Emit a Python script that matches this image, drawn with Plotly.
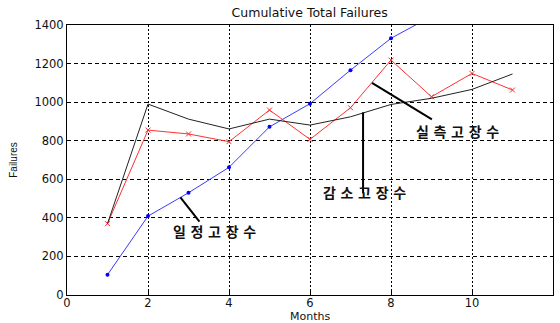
import plotly.graph_objects as go

months = [1, 2, 3, 4, 5, 6, 7, 8, 9, 10, 11]

# constant-rate failures (rises off the top of the axes after month 8)
constant_months = [1, 2, 3, 4, 5, 6, 7, 8, 9]
constant_vals = [105, 409, 530, 662, 872, 992, 1166, 1331, 1445]

# observed failures
observed_vals = [370, 855, 835, 795, 959, 807, 971, 1218, 1028, 1149, 1063]

# decreasing-rate failures
decreasing_vals = [370, 990, 912, 861, 912, 881, 924, 988, 1020, 1066, 1146]

x_ticks = [0, 2, 4, 6, 8, 10, 12]
y_ticks = [0, 200, 400, 600, 800, 1000, 1200, 1400]

fig = go.Figure()

fig.add_trace(go.Scatter(
    x=constant_months, y=constant_vals, mode="lines+markers",
    line=dict(color="#3a3aff", width=1),
    marker=dict(symbol="circle", size=4, color="#0000ff"),
))
fig.add_trace(go.Scatter(
    x=months, y=observed_vals, mode="lines+markers",
    line=dict(color="#ff3030", width=1),
    marker=dict(symbol="x-thin", size=5, line=dict(color="#ff3030", width=1)),
))
fig.add_trace(go.Scatter(
    x=months, y=decreasing_vals, mode="lines",
    line=dict(color="#222222", width=1),
))

# callout labels with leader lines
labels = [
    dict(text="실측고장수", tx=9.63, ty=850, x0=7.53, y0=1100, x1=9.01, y1=911),
    dict(text="감소고장수", tx=7.34, ty=532, x0=7.31, y0=947, x1=7.31, y1=527),
    dict(text="일정고장수", tx=3.64, ty=330, x0=2.80, y0=506, x1=3.27, y1=380),
]
for lb in labels:
    fig.add_shape(type="line", x0=lb["x0"], y0=lb["y0"], x1=lb["x1"], y1=lb["y1"],
                  xref="x", yref="y", line=dict(color="black", width=2))
    fig.add_annotation(x=lb["tx"], y=lb["ty"], xref="x", yref="y",
                       text="<b>" + "\u2004".join(lb["text"]) + "</b>",
                       showarrow=False,
                       font=dict(family="Noto Sans CJK KR", size=14, color="#111111"))

# x-axis title placed below the tick labels
fig.add_annotation(x=0.5, y=-0.078, xref="paper", yref="paper",
                   text="Months", showarrow=False, xanchor="center", yanchor="middle",
                   font=dict(family="DejaVu Sans", size=11, color="#111111"))

axis_common = dict(
    showline=True, mirror=True, linecolor="black", linewidth=1,
    ticks="inside", ticklen=4, tickcolor="black",
    gridcolor="black", gridwidth=1, zeroline=False, automargin=False,
    tickfont=dict(family="DejaVu Sans", size=11.5, color="#111111"),
)

fig.update_layout(
    width=560, height=323,
    margin=dict(l=67, r=7, t=25, b=28),
    paper_bgcolor="white", plot_bgcolor="white",
    showlegend=False,
    title=dict(text="Cumulative Total Failures", x=0.553, xanchor="center",
               y=0.96, yanchor="middle",
               font=dict(family="DejaVu Sans", size=12.5, color="#111111")),
    xaxis=dict(range=[0, 12], tickvals=x_ticks, griddash="2px,2px",
               ticklabelstandoff=-3, **axis_common),
    yaxis=dict(range=[0, 1400], tickvals=y_ticks, griddash="4px,3px",
               title=dict(text="Failures", standoff=14,
                          font=dict(family="Liberation Sans", size=10, color="#111111")),
               **axis_common),
)

fig.write_html("out.html")
